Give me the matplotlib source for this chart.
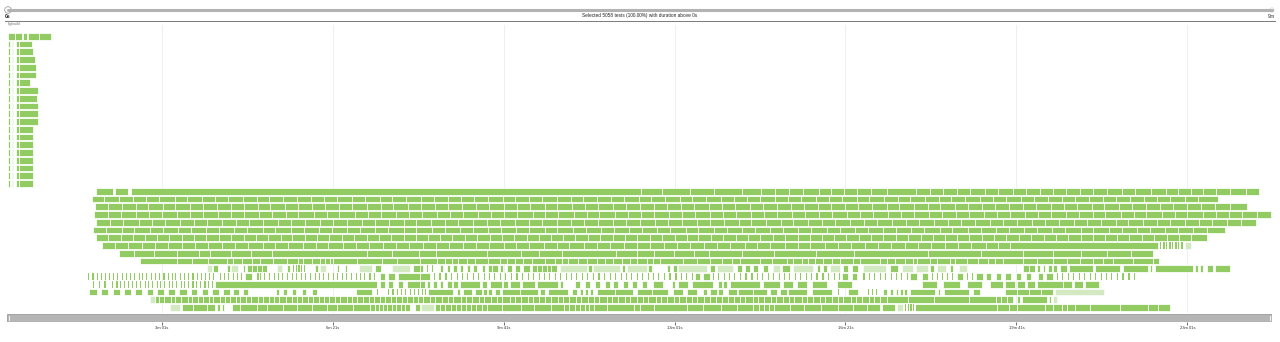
import matplotlib
matplotlib.use('Agg')
import matplotlib.pyplot as plt
from matplotlib.patches import Rectangle, Circle

plt.rcParams['font.family'] = ['Liberation Sans', 'DejaVu Sans']

GREEN = '#91cb62'
PALE = '#d3e9c2'

# time axis (seconds)
x_max = 1480
tick_secs = [181, 381, 581, 781, 981, 1181, 1381]
tick_labels = ['3m 01s', '6m 21s', '9m 41s', '13m 01s', '16m 21s', '19m 41s', '23m 01s']
title = 'Selected 5058 tests (100.00%) with duration above 0s'

# first worker group (rows 0-19)
r0_runs = [[1, 9, 17], [18.5, 23], [25, 38, 51]]
lead_bits = [[1, 3.5], [6, 7.5]]
first_start = 10
first_split = 14
first_ends = [29, 30, 33, 34, 34, 27, 36, 35, 36, 36, 36, 30, 30, 30, 30, 30, 30, 30, 30]

# second worker group (rows 20-35): bar boundaries in seconds
r20_runs = [[104, 124], [126, 142],
            [145, 742, 766, 799, 827, 860, 882, 899, 915, 931, 950, 964, 979, 995, 1011, 1030, 1063, 1080,
             1095, 1111, 1127, 1144, 1160, 1177, 1192, 1208, 1224, 1239, 1255, 1271, 1287, 1304, 1320, 1338,
             1356, 1370, 1385, 1399, 1415, 1431, 1449, 1465]]
r21_runs = [[100, 114, 131, 147, 163, 178, 196, 211, 228, 243, 258, 276, 292, 306, 323, 339, 356, 371, 386,
             404, 419, 436, 451, 467, 484, 499, 516, 531, 546, 563, 580, 594, 611, 626, 643, 660, 674, 690,
             707, 722, 739, 754, 770, 787, 801, 818, 835, 850, 866, 881, 898, 914, 929, 946, 962, 977, 994,
             1009, 1026, 1042, 1057, 1074, 1090, 1105, 1121, 1138, 1154, 1169, 1186, 1201, 1218, 1234, 1249,
             1266, 1282, 1297, 1314, 1330, 1346, 1361, 1378, 1394, 1417]]
r22_runs = [[103, 118, 134, 151, 165, 182, 197, 214, 229, 246, 262, 277, 294, 308, 325, 341, 357, 372, 389,
             404, 421, 437, 452, 469, 484, 501, 516, 532, 549, 564, 581, 597, 612, 629, 644, 661, 676, 692,
             709, 724, 741, 757, 772, 789, 804, 821, 836, 852, 869, 884, 901, 917, 932, 949, 964, 981, 996,
             1012, 1029, 1044, 1061, 1077, 1092, 1109, 1124, 1141, 1156, 1172, 1189, 1204, 1221, 1237, 1252,
             1269, 1284, 1301, 1316, 1332, 1349, 1364, 1381, 1397, 1413, 1431, 1451]]
r23_runs = [[102, 118, 133, 151, 166, 181, 199, 214, 229, 247, 262, 277, 295, 310, 326, 341, 359, 374, 389,
             407, 422, 437, 455, 470, 485, 503, 518, 533, 551, 566, 582, 597, 615, 630, 645, 663, 678, 693,
             711, 726, 742, 757, 775, 790, 805, 823, 838, 853, 871, 886, 901, 919, 934, 950, 965, 983, 998,
             1013, 1031, 1046, 1061, 1079, 1094, 1110, 1125, 1143, 1158, 1173, 1191, 1206, 1221, 1239, 1254,
             1270, 1285, 1303, 1318, 1333, 1351, 1366, 1381, 1399, 1414, 1430, 1445, 1462, 1479]]
r24_runs = [[104, 121, 136, 154, 170, 185, 202, 219, 234, 251, 268, 283, 300, 317, 332, 349, 366, 381, 398,
             415, 430, 447, 464, 479, 496, 513, 528, 545, 562, 577, 594, 611, 626, 643, 660, 675, 692, 709,
             724, 741, 758, 773, 790, 807, 822, 839, 856, 871, 888, 905, 920, 937, 954, 969, 986, 1003, 1018,
             1035, 1052, 1067, 1084, 1101, 1116, 1133, 1150, 1165, 1182, 1199, 1214, 1231, 1248, 1263, 1280,
             1297, 1312, 1329, 1346, 1361, 1378, 1395, 1410, 1427, 1444, 1461]]
r25_runs = [[101, 116, 134, 149, 167, 182, 200, 215, 233, 248, 266, 281, 299, 314, 332, 347, 365, 380, 398,
             413, 431, 446, 464, 479, 497, 512, 530, 545, 563, 578, 596, 611, 629, 644, 662, 677, 695, 710,
             728, 743, 761, 776, 794, 809, 827, 842, 860, 875, 893, 908, 926, 941, 959, 974, 992, 1007, 1025,
             1040, 1058, 1073, 1091, 1106, 1124, 1139, 1157, 1172, 1190, 1205, 1223, 1238, 1256, 1271, 1289,
             1304, 1322, 1337, 1355, 1370, 1388, 1404, 1425]]
r26_runs = [[104, 118, 133, 147, 161, 176, 190, 205, 219, 233, 248, 262, 277, 291, 305, 320, 334, 349, 363,
             377, 392, 406, 421, 435, 449, 464, 478, 493, 507, 521, 536, 550, 565, 579, 593, 608, 622, 637,
             651, 665, 680, 694, 709, 723, 737, 752, 766, 781, 795, 809, 824, 838, 853, 867, 881, 896, 910,
             925, 939, 953, 968, 982, 997, 1011, 1025, 1040, 1054, 1069, 1083, 1097, 1112, 1126, 1141, 1155,
             1169, 1184, 1198, 1213, 1227, 1241, 1256, 1270, 1285, 1299, 1313, 1328, 1342, 1357, 1371, 1385,
             1404]]
r27_runs = [[111, 126, 141, 158, 173, 188, 205, 220, 235, 252, 267, 282, 299, 314, 329, 346, 361, 376, 393,
             408, 423, 440, 455, 470, 487, 502, 517, 534, 549, 564, 581, 596, 611, 628, 643, 658, 675, 690,
             705, 722, 737, 752, 769, 784, 799, 816, 831, 846, 863, 878, 893, 910, 925, 940, 957, 972, 987,
             1004, 1019, 1034, 1051, 1066, 1081, 1098, 1113, 1128, 1145, 1160, 1173, 1347]]
r27_stripes = [1349, 1353, 1356, 1360, 1363, 1367, 1370, 1374]
r27_pale = [(1378, 1385)]
r28_runs = [[131, 149, 172, 199, 225, 238, 262, 285, 310, 421, 450, 482, 502, 562, 601, 622, 649, 713, 737,
             757, 780, 804, 821, 860, 897, 947, 991, 1078, 1140, 1189, 1224, 1257, 1287, 1315, 1341]]
r29_runs = [[156, 199, 216, 235, 257, 264, 275, 287, 296, 311, 328, 340, 346, 357, 366, 372, 378, 381, 410,
             439, 456, 483, 503, 512, 521, 528, 538, 548, 563, 577, 585, 594, 604, 614, 629, 641, 649, 656,
             668, 679, 690, 700, 709, 720, 729, 737, 749, 756, 764, 791, 807, 823, 837, 848, 858, 881, 895,
             913, 920, 930, 937, 945, 955, 965, 975, 990, 998, 1021, 1030, 1039, 1051, 1060, 1065, 1080, 1088,
             1103, 1109, 1123, 1136, 1148, 1156, 1165, 1189, 1205, 1224, 1240, 1255, 1271, 1282, 1294, 1317,
             1341, 1348]]
r30_runs = [[241, 247], [257, 261], [276, 278], [281, 287, 293, 298, 304], [328, 331], [360, 364], [386, 388],
            [395, 398], [430, 438], [475, 483, 487], [507, 510], [515, 518], [522, 527], [530, 534], [538, 542],
            [545, 550], [556, 559], [563, 568, 574], [577, 580], [585, 591], [594, 600], [604, 612],
            [614, 620, 626, 632, 637, 643], [680, 684], [720, 723], [750, 755], [772, 776], [779, 784],
            [823, 828], [854, 860], [863, 869], [873, 879], [885, 890], [907, 916], [948, 951], [955, 959],
            [978, 984], [989, 996], [1033, 1042], [1080, 1084], [1103, 1107], [1189, 1196, 1203], [1205, 1209],
            [1212, 1214], [1218, 1223], [1224, 1229], [1232, 1240], [1243, 1271], [1273, 1302], [1306, 1335],
            [1337, 1340], [1343, 1387], [1390, 1394], [1396, 1399], [1404, 1411], [1413, 1431]]
r30_pale = [(234, 240), (262, 270), (316, 322), (366, 373), (412, 427), (451, 471), (647, 679), (686, 717),
            (725, 749), (785, 819), (831, 849), (896, 904), (920, 943), (963, 975), (1002, 1028), (1047, 1060),
            (1064, 1077), (1088, 1099), (1114, 1123)]
r30_stripes = [335, 338, 341, 344, 347, 491, 497]
r31_runs = [[278, 287], [436, 442], [446, 454], [457, 483, 495], [805, 811], [814, 822], [977, 984],
            [989, 995], [1057, 1065], [1071, 1077], [1111, 1118], [1134, 1142], [1145, 1151], [1157, 1163],
            [1168, 1175], [1180, 1186], [1192, 1198], [1206, 1212], [1216, 1224]]
r31_stripes = [95, 100, 105, 110, 115, 119, 124, 129, 134, 139, 144, 149, 154, 158, 163, 168, 173, 178, 183,
               188, 193, 197, 202, 207, 212, 217, 222, 227, 232, 236, 241, 249, 254, 259, 264, 269, 274, 293,
               296, 301, 306, 312, 317, 322, 328, 333, 338, 344, 349, 354, 360, 365, 370, 376, 381, 386, 392,
               397, 402, 408, 413, 418, 424, 429, 500, 506, 513, 519, 526, 532, 538, 545, 551, 558, 564, 570,
               577, 583, 590, 596, 602, 609, 615, 622, 628, 634, 641, 647, 654, 660, 666, 673, 679, 686, 692,
               698, 705, 711, 718, 724, 730, 737, 743, 750, 756, 762, 769, 775, 782, 788, 794, 801, 826, 832,
               839, 845, 851, 858, 864, 871, 877, 883, 890, 896, 903, 909, 915, 922, 928, 935, 941, 947, 954,
               960, 967, 973, 1002, 1008, 1014, 1021, 1027, 1034, 1040, 1046, 1053, 1082, 1088, 1094, 1100,
               1106, 1123, 1129, 1228, 1234, 1241, 1247, 1254, 1260, 1267, 1273, 1280, 1286, 1292, 1299, 1305,
               1312, 1318]
r32_runs = [[243, 433], [436, 442], [446, 452], [457, 463], [468, 483, 489], [491, 495], [498, 503], [507, 510],
            [515, 521], [522, 528], [530, 553], [556, 562], [565, 579], [580, 586], [589, 600], [603, 618],
            [620, 645], [647, 651], [665, 670], [676, 682], [688, 694], [700, 706], [709, 715], [721, 727],
            [731, 737], [743, 749], [756, 768], [778, 782], [785, 797], [801, 826], [832, 837], [838, 842],
            [846, 881], [885, 904], [908, 920], [924, 936], [942, 959], [971, 989], [1071, 1088], [1095, 1115],
            [1123, 1141], [1150, 1165], [1168, 1179], [1182, 1191], [1193, 1203], [1205, 1235], [1236, 1246],
            [1248, 1259], [1261, 1278]]
r32_stripes = [101, 108, 114, 123, 128, 132, 137, 142, 146, 151, 156, 161, 165, 170, 175, 179, 184, 189, 193,
               198, 203, 207, 212, 217, 221, 226, 231, 235, 240]
r33_runs = [[96, 105], [110, 118], [124, 132], [137, 145], [150, 158], [164, 171], [176, 184], [188, 197],
            [201, 211], [215, 222], [228, 235], [240, 248], [253, 261], [264, 271], [276, 282], [315, 318],
            [323, 328], [333, 338], [345, 350], [357, 363], [408, 427], [493, 522], [527, 530], [534, 544],
            [548, 556], [557, 562], [563, 567], [571, 577], [579, 600, 621], [624, 629], [633, 656], [661, 667],
            [670, 674], [676, 680], [682, 686], [690, 711, 732], [737, 755, 773], [779, 791], [796, 807],
            [814, 819], [823, 831], [832, 838], [844, 854], [855, 873, 889], [893, 901], [904, 913], [914, 936],
            [942, 965], [984, 996], [1025, 1030], [1033, 1037], [1040, 1042], [1045, 1048], [1049, 1053],
            [1057, 1086], [1089, 1092], [1096, 1126], [1130, 1138], [1168, 1182, 1196, 1210, 1224]]
r33_stripes = [433, 446, 451, 456, 461, 466, 471, 476, 481, 485, 489, 972, 1007, 1012, 1017]
r33_pale = [(1226, 1284)]
r34_runs = [[173, 178, 184, 192, 197, 203, 212, 217, 224, 229, 236, 241, 249, 255, 261, 268, 273, 280, 286,
             294, 299, 306, 312, 318, 327, 333, 339, 345, 352, 358, 365, 371, 377, 384, 390, 398, 404, 410,
             417, 423, 429, 436, 442, 449, 455, 462, 468, 475, 481, 487, 495, 501, 509, 516, 522, 531, 537,
             544, 552, 558, 566, 573, 579, 588, 594, 601, 609, 615, 623, 630, 636, 645, 651, 658, 666, 672,
             680, 687, 693, 702, 708, 715, 723, 729, 737, 744, 750, 759, 765, 772, 780, 786, 794, 801, 807,
             816, 822, 829, 837, 843, 851, 858, 864, 873, 879, 886, 894, 900, 908, 915, 921, 930, 936, 943,
             951, 957, 965, 972, 978, 987, 993, 1000, 1008, 1014, 1021, 1030, 1054, 1084, 1125, 1157, 1163,
             1170, 1177], [1182, 1185], [1188, 1217], [1219, 1222]]
r34_pale = [(167, 173), (1224, 1229)]
r35_runs = [[205, 218, 234, 243], [246, 249], [252, 254],
            [263, 273, 293, 304, 323, 339, 357, 374, 386, 405, 425, 430, 435, 440, 445, 450, 455, 461, 466, 472],
            [477, 483],
            [501, 507, 513, 519, 525, 531, 537, 543, 549, 556, 562, 579, 601, 616, 636, 652, 658, 664, 670, 676,
             681, 687, 702, 733, 741, 757, 796, 814, 835, 854, 873, 880, 886, 891, 897, 916, 932, 952, 972, 990,
             1006, 1021], [1024, 1039],
            [1062, 1158, 1172, 1182, 1215, 1224, 1234, 1240, 1250, 1267, 1302, 1335, 1347, 1361]]
r35_pale = [(191, 202), (484, 499), (1041, 1048)]
r35_stripes = [1051, 1054, 1057, 1060]

second_group = [
    (r20_runs, [], []), (r21_runs, [], []), (r22_runs, [], []), (r23_runs, [], []),
    (r24_runs, [], []), (r25_runs, [], []), (r26_runs, [], []), (r27_runs, r27_pale, r27_stripes),
    (r28_runs, [], []), (r29_runs, [], []), (r30_runs, r30_pale, r30_stripes), (r31_runs, [], r31_stripes),
    (r32_runs, [], r32_stripes), (r33_runs, r33_pale, r33_stripes), (r34_runs, r34_pale, []),
    (r35_runs, r35_pale, r35_stripes),
]

BAR_H = 0.88


def draw_row(ax, row, runs, pale=(), stripes=()):
    y0 = row - BAR_H / 2
    if pale:
        ax.broken_barh([(a, b - a) for a, b in pale], (y0, BAR_H),
                       facecolors=PALE, edgecolor='white', linewidth=0.4, zorder=2)
    if stripes:
        ax.broken_barh([(s, 1.3) for s in stripes], (y0, BAR_H),
                       facecolors=GREEN, linewidth=0, zorder=2)
    for run in runs:
        segs = [(a, b - a) for a, b in zip(run[:-1], run[1:])]
        ax.broken_barh(segs, (y0, BAR_H), facecolors=GREEN,
                       edgecolor='white', linewidth=0.55, zorder=3)


W, H = 1280, 342
fig = plt.figure(figsize=(W / 100, H / 100), dpi=100)

# main timeline
ax = fig.add_axes([7 / W, 1 - 313 / H, 1265 / W, 288 / H])
ax.set_xlim(0, x_max)
ax.set_ylim(35.71, -1.45)
ax.set_xticks(tick_secs)
ax.set_yticks([])
ax.tick_params(axis='x', length=0, labelbottom=False)
ax.grid(axis='x', color='#ececec', linewidth=0.6)
ax.set_axisbelow(True)
for sp in ax.spines.values():
    sp.set_visible(False)

draw_row(ax, 0, r0_runs)
for i, end in enumerate(first_ends):
    draw_row(ax, i + 1, lead_bits + [[first_start, first_split, end]])
for i, (runs, pale, stripes) in enumerate(second_group):
    draw_row(ax, 20 + i, runs, pale, stripes)

# brush / x axis at the bottom
axb = fig.add_axes([7 / W, 1 - 322 / H, 1265 / W, 8 / H], sharex=ax)
axb.add_patch(Rectangle((0, 0.05), 1, 0.9, transform=axb.transAxes, facecolor='#b5b5b5',
                        edgecolor='#9c9c9c', linewidth=0.6))
axb.plot([0.0015, 0.0015], [0.2, 0.8], transform=axb.transAxes, color='white', lw=0.6)
axb.plot([0.9985, 0.9985], [0.2, 0.8], transform=axb.transAxes, color='white', lw=0.6)
axb.set_yticks([])
axb.set_xticks(tick_secs)
axb.set_xticklabels(tick_labels)
axb.tick_params(axis='x', length=2, width=0.5, pad=1, labelsize=3, colors='#333333')
for sp in axb.spines.values():
    sp.set_visible(False)

# header: slider, labels and separator line
axo = fig.add_axes([0, 0, 1, 1])
axo.set_xlim(0, W)
axo.set_ylim(H, 0)
axo.axis('off')
axo.plot([8, 1272], [10, 10], color='#b3b3b3', lw=2.2, solid_capstyle='round')
axo.add_patch(Circle((8, 10), 3.3, facecolor='white', edgecolor='#8a8a8a', lw=0.5))
axo.add_patch(Circle((1272, 10), 2.2, facecolor='white', edgecolor='#cccccc', lw=0.4))
axo.text(5, 16, '0s', fontsize=3.6, fontweight='bold', ha='left', va='center', color='#222222')
axo.text(1275, 16, '9m', fontsize=3.6, ha='right', va='center', color='#222222')
axo.text(640, 16, title, fontsize=3.4, ha='center', va='center', color='#222222')
axo.plot([5, 1275], [21, 21], color='#7a7a7a', lw=0.7)
axo.text(8, 24.5, 'hgbuild', fontsize=2.9, ha='left', va='center', color='#777777')

fig.savefig('out.png', dpi=100)
